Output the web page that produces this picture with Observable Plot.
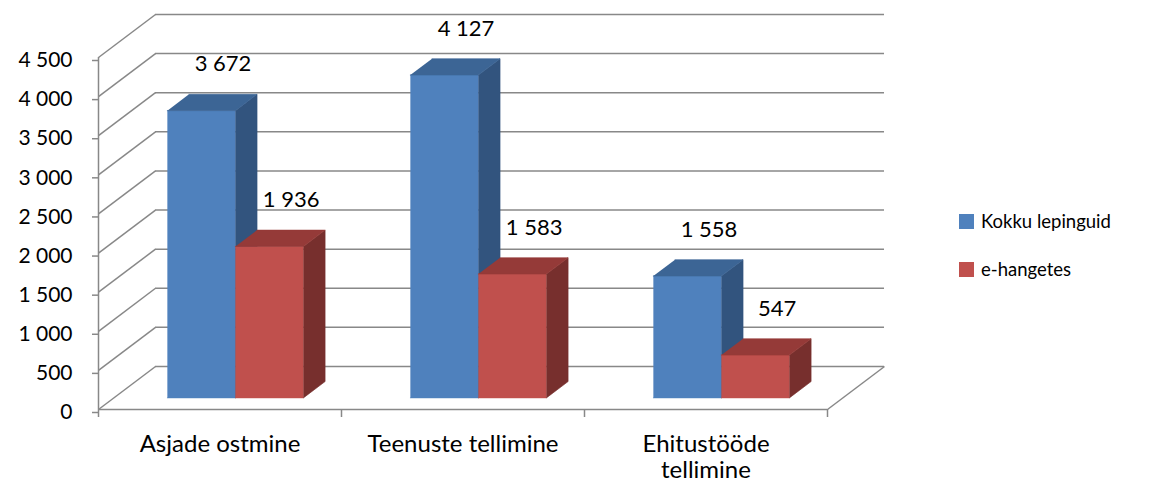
<!DOCTYPE html>
<html>
<head>
<meta charset="utf-8">
<script src="https://cdn.jsdelivr.net/npm/d3@7"></script>
<script src="https://cdn.jsdelivr.net/npm/@observablehq/plot@0.6"></script>
<style>
  body { margin: 0; background: #fff; }
  #wrap { position: relative; width: 1154px; height: 486px; font-family: Lato, sans-serif; }
  #legend { position: absolute; left: 959px; top: 211px; font-size: 18.5px; color: #000; }
  .row { display: flex; align-items: center; height: 20px; margin-bottom: 28px; }
  .sw { width: 15px; height: 15px; margin-right: 7px; }
</style>
</head>
<body>
<div id="wrap"><div id="chart"></div><div id="legend"></div></div>
<script>
// ---- data ----
const categories = ["Asjade ostmine", "Teenuste tellimine", "Ehitustööde tellimine"];
const categoryLabels = ["Asjade ostmine", "Teenuste tellimine", "Ehitustööde\ntellimine"];
const seriesNames = ["Kokku lepinguid", "e-hangetes"];
const kokkuLepinguid = [3672, 4127, 1558];
const eHangetes = [1936, 1583, 547];
const yTicks = [0, 500, 1000, 1500, 2000, 2500, 3000, 3500, 4000, 4500];

// ---- styling ----
const seriesColors = [
  {front: "#4F81BD", side: "#32547E", top: "#3C6595"},
  {front: "#C0504D", side: "#772F2D", top: "#953A38"}
];
const gridColor = "#888888";
const fmt = d => d3.format(",")(d).replace(/,/g, "\u00a0");

// oblique projection (depth in x-units and value-units)
const DX = 0.2346, DY = 550;
const d0 = 0.27, d1 = 0.65;           // bar depth range
const barW = 0.28, barStart = 0.22;   // within category band
const proj = (x, v, d) => ({x: x + d * DX, y: v + d * DY});

const series = [kokkuLepinguid, eHangetes];
const faces = [];
const labels = [];
let id = 0;
categories.forEach((c, i) => {
  series.forEach((vals, s) => {
    const v = vals[i];
    const x0 = i + barStart + s * barW, x1 = x0 + barW;
    const col = seriesColors[s];
    const push = (pts, fill) => { const k = id++; pts.forEach(p => faces.push({...p, id: k, fill})); };
    push([proj(x0,0,d0), proj(x1,0,d0), proj(x1,v,d0), proj(x0,v,d0)], col.front);
    push([proj(x1,0,d0), proj(x1,0,d1), proj(x1,v,d1), proj(x1,v,d0)], col.side);
    push([proj(x0,v,d0), proj(x1,v,d0), proj(x1,v,d1), proj(x0,v,d1)], col.top);
    labels.push({...proj((x0 + x1) / 2, v, d1), text: fmt(v)});
  });
});

const chart = Plot.plot({
  width: 1154,
  height: 486,
  marginLeft: 98,
  marginRight: 327,
  marginTop: 57,
  marginBottom: 77,
  style: {fontFamily: "Lato, sans-serif", fontSize: "21px", color: "#000", background: "#fff"},
  x: {type: "linear", domain: [0, 3], axis: null},
  y: {type: "linear", domain: [0, 4500], axis: null},
  color: {type: "identity"},
  marks: [
    // back wall gridlines
    Plot.ruleY(yTicks, {y: d => d + DY, x1: DX, x2: 3 + DX, stroke: gridColor, strokeWidth: 1.5}),
    // side wall diagonals
    Plot.link(yTicks, {x1: 0, y1: d => d, x2: DX, y2: d => d + DY, stroke: gridColor, strokeWidth: 1.5}),
    // floor right edge
    Plot.link([0], {x1: 3, y1: 0, x2: 3 + DX, y2: DY, stroke: gridColor, strokeWidth: 1.5}),
    // front floor edge and value axis line
    Plot.ruleY([0], {x1: 0, x2: 3, stroke: gridColor, strokeWidth: 1.5}),
    Plot.ruleX([0], {y1: 0, y2: d3.max(yTicks), stroke: gridColor, strokeWidth: 1.5}),
    Plot.axisY({ticks: yTicks, tickFormat: fmt, label: null, tickSize: 6, tickPadding: 20, stroke: gridColor, strokeWidth: 1.5, fill: "#000", fontSize: 21, dy: 3}),
    Plot.axisX({ticks: [0, 1, 2, 3], tickFormat: () => "", label: null, tickSize: 8, stroke: gridColor, strokeWidth: 1.5}),
    Plot.text(categoryLabels, {x: (d, i) => i + 0.5, y: 0, text: d => d, dy: 23, fontSize: 24, lineAnchor: "top", lineHeight: 1.12, fill: "#000"}),
    // bars
    Plot.line(faces, {x: "x", y: "y", z: "id", fill: "fill", stroke: "fill", strokeWidth: 0.6, strokeLinejoin: "round"}),
    // value labels
    Plot.text(labels, {x: "x", y: "y", text: "text", dy: -30, fontSize: 22, fill: "#000"})
  ]
});
document.getElementById("chart").appendChild(chart);

const legend = document.getElementById("legend");
seriesNames.forEach((n, s) => {
  const row = document.createElement("div");
  row.className = "row";
  row.innerHTML = `<div class="sw" style="background:${seriesColors[s].front}"></div><span>${n}</span>`;
  legend.appendChild(row);
});
</script>
</body>
</html>
